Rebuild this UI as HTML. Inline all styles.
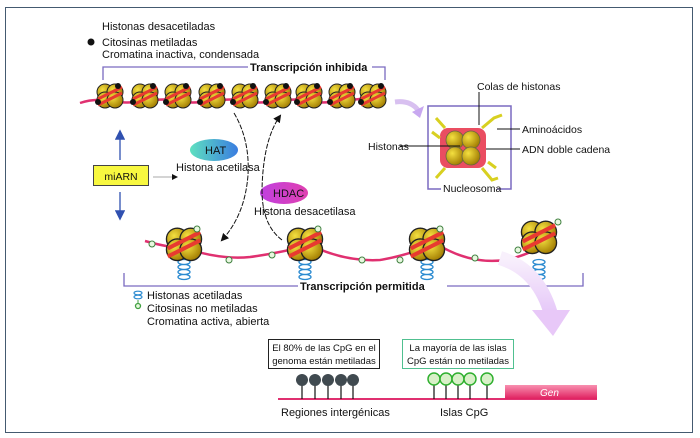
<!DOCTYPE html>
<html><head><meta charset="utf-8"><style>
html,body{margin:0;padding:0;background:#fff}
svg{display:block}
text{font-family:"Liberation Sans",Arial,sans-serif;fill:#111}
</style></head><body>
<svg width="700" height="438" viewBox="0 0 700 438" xmlns="http://www.w3.org/2000/svg">
<defs>
<radialGradient id="yg" cx="0.35" cy="0.35" r="0.7"><stop offset="0" stop-color="#f4e040"/><stop offset="1" stop-color="#a07a00"/></radialGradient>
<linearGradient id="hat" x1="0" x2="1"><stop offset="0" stop-color="#5ee0c0"/><stop offset="1" stop-color="#3a7de0"/></linearGradient>
<linearGradient id="hdac" x1="0" x2="1"><stop offset="0" stop-color="#c040e0"/><stop offset="1" stop-color="#e040b0"/></linearGradient>
<linearGradient id="gen" x1="0" y1="0" x2="0" y2="1"><stop offset="0" stop-color="#f890b0"/><stop offset="1" stop-color="#e02060"/></linearGradient>
<linearGradient id="pk" x1="0" y1="0" x2="0" y2="1"><stop offset="0" stop-color="#f8f0fc"/><stop offset="1" stop-color="#e4c4f8"/></linearGradient>
<g id="nuc">
<circle cx="-5" cy="-3" r="8" fill="url(#yg)" stroke="#222" stroke-width="1"/>
<circle cx="5" cy="-3" r="8" fill="url(#yg)" stroke="#222" stroke-width="1"/>
<circle cx="-5" cy="5" r="8" fill="url(#yg)" stroke="#222" stroke-width="1"/>
<circle cx="5" cy="5" r="8" fill="url(#yg)" stroke="#222" stroke-width="1"/>
<path d="M-12 4 L12 -8 M-12 10 L12 -2" stroke="#e83a30" stroke-width="3"/>
</g>
<g id="spring" fill="none" stroke="#2a8ad0" stroke-width="1.3">
<ellipse cx="0" cy="0" rx="6" ry="2.5"/><ellipse cx="0" cy="5" rx="6" ry="2.5"/><ellipse cx="0" cy="10" rx="6" ry="2.5"/><ellipse cx="0" cy="15" rx="6" ry="2.5"/>
</g>
<marker id="ah" markerWidth="8" markerHeight="8" refX="6" refY="4" orient="auto"><path d="M0 0 L8 4 L0 8 Z" fill="#111"/></marker>
<marker id="ab" markerWidth="8" markerHeight="8" refX="6" refY="4" orient="auto"><path d="M0 0 L8 4 L0 8 Z" fill="#3050b0"/></marker>
</defs>
<rect x="5.5" y="7.5" width="687" height="425" fill="none" stroke="#445a70" stroke-width="1"/>

<text x="102" y="30" font-size="11">Histonas desacetiladas</text>
<circle cx="91" cy="42" r="3.5" fill="#111"/>
<text x="102" y="46" font-size="11">Citosinas metiladas</text>
<text x="102" y="58" font-size="11">Cromatina inactiva, condensada</text>
<path d="M103 80 V67 H248 M372 67 H385 V80" fill="none" stroke="#7a6ac0" stroke-width="1.3"/>
<text x="250" y="71" font-size="11" font-weight="bold">Transcripción inhibida</text>

<path d="M80 103 Q95 98 110 101 T145 101 T178 101 T212 101 T245 101 T278 101 T308 101 T342 101 T385 97" fill="none" stroke="#e03070" stroke-width="2.5"/>
<g>
<use href="#nuc" x="110" y="95"/><use href="#nuc" x="145" y="95"/><use href="#nuc" x="178" y="95"/>
<use href="#nuc" x="212" y="95"/><use href="#nuc" x="245" y="95"/><use href="#nuc" x="278" y="95"/>
<use href="#nuc" x="309" y="95"/><use href="#nuc" x="342" y="95"/><use href="#nuc" x="373" y="95"/>
</g>
<g fill="#111">
<circle cx="98" cy="102" r="3"/><circle cx="118" cy="86" r="3"/><circle cx="133" cy="102" r="3"/><circle cx="153" cy="86" r="3"/>
<circle cx="166" cy="102" r="3"/><circle cx="186" cy="86" r="3"/><circle cx="200" cy="102" r="3"/><circle cx="220" cy="86" r="3"/>
<circle cx="233" cy="102" r="3"/><circle cx="253" cy="86" r="3"/><circle cx="266" cy="102" r="3"/><circle cx="286" cy="86" r="3"/>
<circle cx="297" cy="102" r="3"/><circle cx="317" cy="86" r="3"/><circle cx="330" cy="102" r="3"/><circle cx="350" cy="86" r="3"/>
<circle cx="361" cy="102" r="3"/><circle cx="381" cy="86" r="3"/>
</g>
<path d="M395 102 Q410 100 418 110" fill="none" stroke="#d8c0f0" stroke-width="5"/>
<path d="M412 112 L424 106 L420 118 Z" fill="#c8a8f0"/>

<path d="M441 189 H428 V106 H511 V189 H497" fill="none" stroke="#7a6ac0" stroke-width="1.5"/>
<text x="443" y="192" font-size="10.5">Nucleosoma</text>
<rect x="440" y="128" width="46" height="40" rx="8" fill="#e83a50" opacity="0.9"/>
<g stroke="#d8d020" stroke-width="3" fill="none">
<path d="M445 128 L436 118 M482 128 L494 118 L502 115 M445 168 L436 178 M482 168 L492 180 L498 178 M440 138 L432 132 M488 162 L496 168"/>
</g>
<circle cx="455" cy="140" r="9" fill="url(#yg)" stroke="#664" stroke-width="0.8"/>
<circle cx="471" cy="140" r="9" fill="url(#yg)" stroke="#664" stroke-width="0.8"/>
<circle cx="455" cy="156" r="9" fill="url(#yg)" stroke="#664" stroke-width="0.8"/>
<circle cx="471" cy="156" r="9" fill="url(#yg)" stroke="#664" stroke-width="0.8"/>
<g stroke="#111" stroke-width="1">
<path d="M479 92 V125"/><path d="M497 129 H520"/><path d="M486 149 H520"/><path d="M400 146 H460"/>
</g>
<text x="477" y="90" font-size="10.5">Colas de histonas</text>
<text x="522" y="133" font-size="10.5">Aminoácidos</text>
<text x="522" y="153" font-size="10.5">ADN doble cadena</text>
<text x="368" y="150" font-size="10.5">Histonas</text>

<rect x="93.5" y="165.5" width="55" height="20" fill="#f8f840" stroke="#444" stroke-width="1"/>
<text x="121" y="180" font-size="10.5" text-anchor="middle">miARN</text>
<line x1="120" y1="160" x2="120" y2="132" stroke="#3050b0" stroke-width="1.3" marker-end="url(#ab)"/>
<line x1="120" y1="192" x2="120" y2="218" stroke="#3050b0" stroke-width="1.3" marker-end="url(#ab)"/>
<line x1="153" y1="177" x2="174" y2="177" stroke="#aaa" stroke-width="1" />
<path d="M172 174 L178 177 L172 180 Z" fill="#111"/>
<ellipse cx="214" cy="150" rx="24" ry="11" fill="url(#hat)"/>
<text x="205" y="154" font-size="11">HAT</text>
<text x="176" y="171" font-size="11">Histona acetilasa</text>
<ellipse cx="284" cy="193" rx="24" ry="11" fill="url(#hdac)"/>
<text x="273" y="197" font-size="11">HDAC</text>
<text x="254" y="215" font-size="11">Histona desacetilasa</text>
<path d="M234 113 Q250 140 248 175 Q245 215 222 240" fill="none" stroke="#111" stroke-width="1" stroke-dasharray="5,1.5" marker-end="url(#ah)"/>
<path d="M282 240 Q262 225 262 190 Q263 140 280 116" fill="none" stroke="#111" stroke-width="1" stroke-dasharray="5,1.5" marker-end="url(#ah)"/>

<path d="M145 241 Q170 248 185 248 Q220 260 250 257 Q280 253 310 245 Q345 262 380 260 Q410 255 435 243 Q470 265 505 260 Q530 255 548 242" fill="none" stroke="#e03070" stroke-width="2.5"/>
<use href="#spring" x="184" y="262"/><use href="#spring" x="305" y="262"/><use href="#spring" x="427" y="262"/><use href="#spring" x="539" y="262"/>
<g transform="translate(184,243) scale(1.35)"><use href="#nuc"/></g>
<g transform="translate(305,243) scale(1.35)"><use href="#nuc"/></g>
<g transform="translate(427,243) scale(1.35)"><use href="#nuc"/></g>
<g transform="translate(539,236) scale(1.35)"><use href="#nuc"/></g>
<g fill="#e8f8e0" stroke="#408040" stroke-width="1">
<circle cx="152" cy="244" r="3"/><circle cx="197" cy="229" r="3"/><circle cx="229" cy="260" r="3"/><circle cx="272" cy="255" r="3"/>
<circle cx="318" cy="229" r="3"/><circle cx="362" cy="260" r="3"/><circle cx="400" cy="260" r="3"/><circle cx="440" cy="229" r="3"/>
<circle cx="475" cy="258" r="3"/><circle cx="518" cy="250" r="3"/><circle cx="558" cy="222" r="3"/>
</g>
<path d="M124 273 V286 H298 M447 286 H583 V273" fill="none" stroke="#7a6ac0" stroke-width="1.3"/>
<text x="300" y="290" font-size="11" font-weight="bold">Transcripción permitida</text>

<path d="M500 258 Q540 270 552 318" fill="none" stroke="url(#pk)" stroke-width="14"/>
<path d="M532 310 L570 310 L553 336 Z" fill="#e8c8f8"/>

<g fill="none" stroke="#2a8ad0" stroke-width="1.2">
<ellipse cx="138" cy="293" rx="4" ry="1.8"/><ellipse cx="138" cy="297" rx="4" ry="1.8"/>
</g>
<line x1="138" y1="300" x2="138" y2="304" stroke="#40a040" stroke-width="1"/>
<circle cx="138" cy="306" r="2.5" fill="#e8f8e0" stroke="#40a040" stroke-width="1.3"/>
<text x="147" y="299" font-size="11">Histonas acetiladas</text>
<text x="147" y="312" font-size="11">Citosinas no metiladas</text>
<text x="147" y="325" font-size="11">Cromatina activa, abierta</text>

<rect x="268.5" y="339.5" width="111" height="29" fill="#fff" stroke="#222" stroke-width="1"/>
<text x="324" y="351" font-size="9.5" text-anchor="middle">El 80% de las CpG en el</text>
<text x="324" y="364" font-size="9.5" text-anchor="middle">genoma están metiladas</text>
<rect x="402.5" y="339.5" width="111" height="29" fill="#fff" stroke="#50c090" stroke-width="1"/>
<text x="458" y="351" font-size="9.5" text-anchor="middle">La mayoría de las islas</text>
<text x="458" y="364" font-size="9.5" text-anchor="middle">CpG están no metiladas</text>
<line x1="278" y1="399" x2="597" y2="399" stroke="#e03070" stroke-width="2"/>
<rect x="505" y="385" width="92" height="14" fill="url(#gen)"/>
<text x="540" y="396" font-size="10" font-style="italic" style="fill:#fff">Gen</text>
<g stroke="#111" stroke-width="1.2">
<line x1="302" y1="380" x2="302" y2="399"/><line x1="315" y1="380" x2="315" y2="399"/><line x1="328" y1="380" x2="328" y2="399"/><line x1="341" y1="380" x2="341" y2="399"/><line x1="353" y1="380" x2="353" y2="399"/>
<line x1="434" y1="380" x2="434" y2="399"/><line x1="446" y1="380" x2="446" y2="399"/><line x1="458" y1="380" x2="458" y2="399"/><line x1="470" y1="380" x2="470" y2="399"/><line x1="487" y1="380" x2="487" y2="399"/>
</g>
<g fill="#404a50"><circle cx="302" cy="380" r="6"/><circle cx="315" cy="380" r="6"/><circle cx="328" cy="380" r="6"/><circle cx="341" cy="380" r="6"/><circle cx="353" cy="380" r="6"/></g>
<g fill="#d8f0c8" stroke="#30b030" stroke-width="1.5"><circle cx="434" cy="379" r="6"/><circle cx="446" cy="379" r="6"/><circle cx="458" cy="379" r="6"/><circle cx="470" cy="379" r="6"/><circle cx="487" cy="379" r="6"/></g>
<text x="281" y="416" font-size="11">Regiones intergénicas</text>
<text x="440" y="416" font-size="11">Islas CpG</text>
</svg>
</body></html>
